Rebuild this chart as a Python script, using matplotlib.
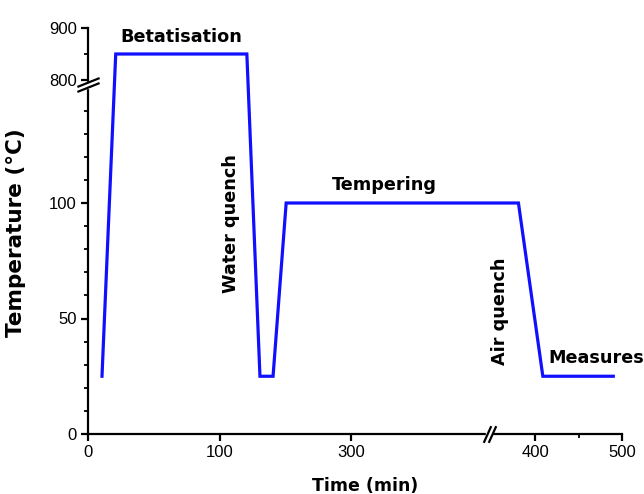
import numpy as np
import matplotlib
matplotlib.use('Agg')
import matplotlib.pyplot as plt
from matplotlib.transforms import offset_copy

# heat treatment cycle
time_min = [10.6, 21, 141, 161, 181, 201, 391, 409, 490]
temp_c = [25, 850, 850, 25, 25, 100, 100, 25, 25]

x_ticks = [0, 100, 300, 400, 500]
x_minor = [450]
y_ticks = [0, 50, 100, 800, 900]
y_minor = [10, 20, 30, 40, 60, 70, 80, 90, 110, 120, 130, 140, 850]

# both axes are broken -> piecewise linear scales
x_knots = [0, 100, 300, 400, 500]
x_pos = [0, 132, 263, 447, 534]
y_knots = [0, 100, 150, 800, 900]
y_pos = [0, 231, 346, 354, 406]
x_break = 375
y_break = 400


def xfwd(v):
    return np.interp(v, x_knots, x_pos)


def xinv(v):
    return np.interp(v, x_pos, x_knots)


def yfwd(v):
    return np.interp(v, y_knots, y_pos)


def yinv(v):
    return np.interp(v, y_pos, y_knots)


fig = plt.figure(figsize=(6.44, 4.94), dpi=100)
ax = fig.add_axes([88/644, 60/494, 534/644, 406/494])
ax.set_xscale('function', functions=(xfwd, xinv))
ax.set_yscale('function', functions=(yfwd, yinv))
ax.set_xlim(0, 500)
ax.set_ylim(0, 900)

ax.plot(time_min, temp_c, color='#1010ff', lw=2.3, solid_joinstyle='miter')

for s in ['top', 'right']:
    ax.spines[s].set_visible(False)
for s in ['left', 'bottom']:
    ax.spines[s].set_linewidth(1.6)

ax.set_xticks(x_ticks)
ax.set_xticks(x_minor, minor=True)
ax.set_yticks(y_ticks)
ax.set_yticks(y_minor, minor=True)
ax.tick_params(which='major', direction='out', length=5, width=1.6,
               labelsize=12, pad=3)
ax.tick_params(which='minor', direction='out', length=3, width=1.3)
for lab in ax.get_xticklabels() + ax.get_yticklabels():
    lab.set_family('Liberation Sans')

# break marks
bold = dict(fontweight='bold', family='DejaVu Sans')
gap = ax.plot([x_break], [0], marker='s', ms=5, color='white', mec='white',
              clip_on=False, zorder=5)
gap = ax.plot([0], [y_break], marker='s', ms=5, color='white', mec='white',
              clip_on=False, zorder=5)
for d in [-2.5, 2.5]:
    tr = offset_copy(ax.transData, fig=fig, x=d, y=0, units='dots')
    ax.plot([x_break], [0], marker=[(-0.45, -1), (0.45, 1)], ms=12,
            mew=1.6, color='k', clip_on=False, zorder=6, transform=tr)
    tr = offset_copy(ax.transData, fig=fig, x=0, y=d, units='dots')
    ax.plot([0], [y_break], marker=[(-1, -0.4), (1, 0.4)], ms=16,
            mew=1.6, color='k', clip_on=False, zorder=6, transform=tr)

ax.text(71, 883, 'Betatisation', ha='center', va='center', fontsize=12.7, **bold)
ax.text(318, 108, 'Tempering', ha='center', va='center', fontsize=12.7, **bold)
ax.text(117, 91, 'Water quench', rotation=90, ha='center', va='center',
        fontsize=12.7, **bold)
ax.text(381, 53, 'Air quench', rotation=90, ha='center', va='center',
        fontsize=12.7, **bold)
ax.text(415, 33, 'Measures', ha='left', va='center', fontsize=12.7, **bold)

ax.set_xlabel('Time (min)', fontsize=12.5, **bold)
ax.set_ylabel('Temperature (\u00b0C)', fontsize=15.5, **bold)
ax.xaxis.set_label_coords(0.519, -0.105)
ax.yaxis.set_label_coords(-0.116, 0.497)

fig.savefig('out.png', dpi=100)
